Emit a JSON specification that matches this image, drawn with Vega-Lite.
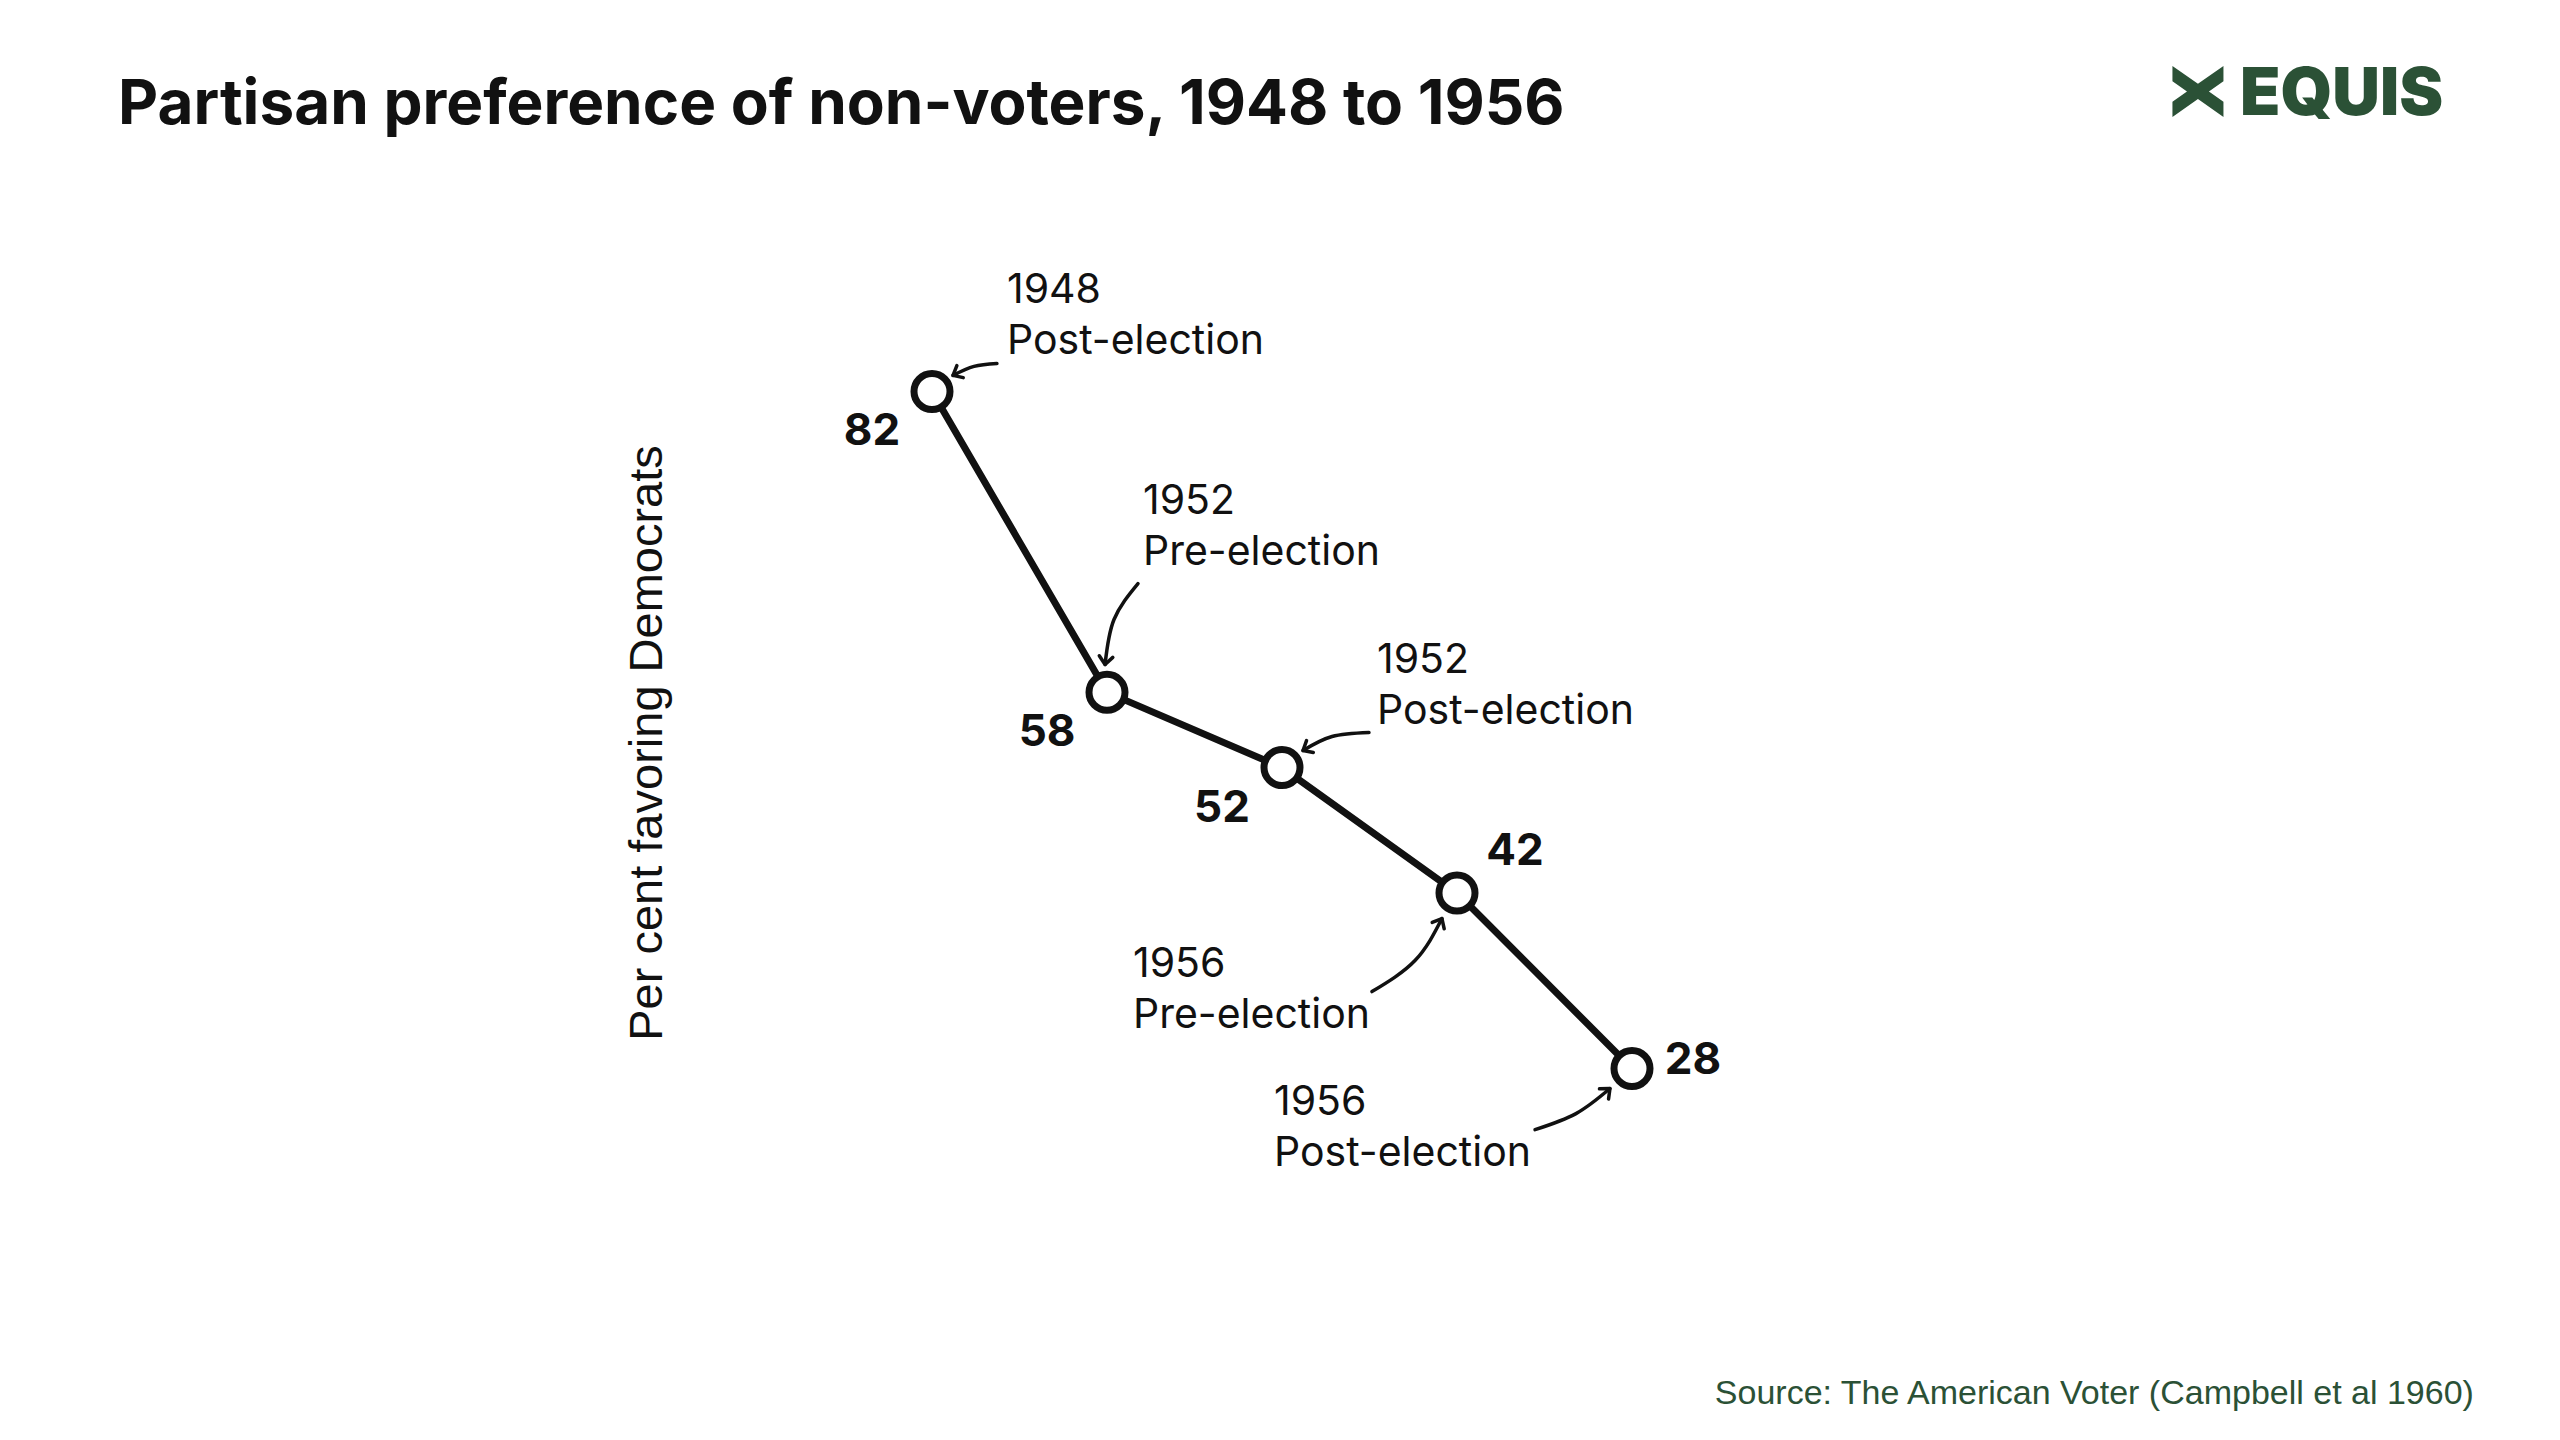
{
  "$schema": "https://vega.github.io/schema/vega-lite/v6.json",
  "autosize": {"type": "none"},
  "padding": {"left": 757, "top": 241, "right": 753, "bottom": 196},
  "width": 1050,
  "height": 1003,
  "background": "white",
  "config": {
    "view": {"stroke": null},
    "axisY": {
      "labels": false,
      "ticks": false,
      "domain": false,
      "grid": false,
      "titleFont": "Liberation Sans",
      "titleFontSize": 47,
      "titleFontWeight": "normal",
      "titleColor": "#111111",
      "titlePadding": 86
    }
  },
  "datasets": {
    "points": [
      {"step": 0, "pct": 82, "note": "1948\nPost-election"},
      {"step": 1, "pct": 58, "note": "1952\nPre-election"},
      {"step": 2, "pct": 52, "note": "1952\nPost-election"},
      {"step": 3, "pct": 42, "note": "1956\nPre-election"},
      {"step": 4, "pct": 28, "note": "1956\nPost-election"}
    ],
    "arrows": [
      {"arrow": "a1", "seq": 1, "step": 0.371, "pct": 84.23},
      {"arrow": "a1", "seq": 2, "step": 0.24, "pct": 84.0},
      {"arrow": "a1", "seq": 3, "step": 0.12, "pct": 83.28, "heading": 152},
      {"arrow": "a2", "seq": 1, "step": 1.177, "pct": 66.68},
      {"arrow": "a2", "seq": 2, "step": 1.04, "pct": 63.81},
      {"arrow": "a2", "seq": 3, "step": 0.989, "pct": 60.22, "heading": 97},
      {"arrow": "a3", "seq": 1, "step": 2.497, "pct": 54.8},
      {"arrow": "a3", "seq": 2, "step": 2.286, "pct": 54.48},
      {"arrow": "a3", "seq": 3, "step": 2.12, "pct": 53.36, "heading": 150},
      {"arrow": "a4", "seq": 1, "step": 2.514, "pct": 34.13},
      {"arrow": "a4", "seq": 2, "step": 2.76, "pct": 36.61},
      {"arrow": "a4", "seq": 3, "step": 2.914, "pct": 39.96, "heading": -62},
      {"arrow": "a5", "seq": 1, "step": 3.446, "pct": 23.12},
      {"arrow": "a5", "seq": 2, "step": 3.68, "pct": 24.4},
      {"arrow": "a5", "seq": 3, "step": 3.874, "pct": 26.4, "heading": -42}
    ],
    "furniture": [
      {"title": "Partisan preference of non-voters, 1948 to 1956", "brand": "EQUIS", "source": "Source: The American Voter (Campbell et al 1960)"}
    ]
  },
  "layer": [
    {
      "encoding": {
        "x": {"field": "step", "type": "quantitative", "scale": {"domain": [-1, 5]}, "axis": null},
        "y": {"field": "pct", "type": "quantitative", "scale": {"domain": [14, 94]}, "axis": {"title": "Per cent favoring Democrats"}}
      },
      "layer": [
        {
          "data": {"name": "arrows"},
          "mark": {"type": "line", "interpolate": "natural", "color": "#111111", "strokeWidth": 3.5, "strokeCap": "round"},
          "encoding": {
            "detail": {"field": "arrow"},
            "order": {"field": "seq"}
          }
        },
        {
          "data": {"name": "arrows"},
          "transform": [{"filter": "datum.seq == 3"}],
          "mark": {"type": "point", "shape": "M-1,-0.85L0,0L-1,0.85", "size": 256, "filled": false, "color": "#111111", "strokeWidth": 3.5, "strokeCap": "round", "strokeJoin": "round", "opacity": 1},
          "encoding": {
            "angle": {"field": "heading", "type": "quantitative", "scale": null}
          }
        },
        {
          "data": {"name": "points"},
          "mark": {"type": "line", "color": "#111111", "strokeWidth": 7}
        },
        {
          "data": {"name": "points"},
          "mark": {"type": "point", "shape": "circle", "size": 1296, "filled": true, "fill": "white", "stroke": "#111111", "strokeWidth": 7, "opacity": 1}
        },
        {
          "data": {"name": "points"},
          "transform": [{"filter": "datum.step <= 2"}],
          "mark": {"type": "text", "font": "Inter", "fontSize": 44, "fontWeight": "bold", "color": "#111111", "align": "center", "baseline": "alphabetic", "dx": -60, "dy": 54},
          "encoding": {"text": {"field": "pct"}}
        },
        {
          "data": {"name": "points"},
          "transform": [{"filter": "datum.step == 3"}],
          "mark": {"type": "text", "font": "Inter", "fontSize": 44, "fontWeight": "bold", "color": "#111111", "align": "center", "baseline": "alphabetic", "dx": 58, "dy": -28},
          "encoding": {"text": {"field": "pct"}}
        },
        {
          "data": {"name": "points"},
          "transform": [{"filter": "datum.step == 4"}],
          "mark": {"type": "text", "font": "Inter", "fontSize": 44, "fontWeight": "bold", "color": "#111111", "align": "center", "baseline": "alphabetic", "dx": 61, "dy": 6},
          "encoding": {"text": {"field": "pct"}}
        },
        {
          "data": {"name": "points"},
          "transform": [{"filter": "datum.step == 0"}],
          "mark": {"type": "text", "font": "Inter", "fontSize": 41, "color": "#111111", "align": "left", "baseline": "alphabetic", "lineBreak": "\n", "lineHeight": 51, "dx": 75, "dy": -88},
          "encoding": {"text": {"field": "note"}}
        },
        {
          "data": {"name": "points"},
          "transform": [{"filter": "datum.step == 1"}],
          "mark": {"type": "text", "font": "Inter", "fontSize": 41, "color": "#111111", "align": "left", "baseline": "alphabetic", "lineBreak": "\n", "lineHeight": 51, "dx": 36, "dy": -178},
          "encoding": {"text": {"field": "note"}}
        },
        {
          "data": {"name": "points"},
          "transform": [{"filter": "datum.step == 2"}],
          "mark": {"type": "text", "font": "Inter", "fontSize": 41, "color": "#111111", "align": "left", "baseline": "alphabetic", "lineBreak": "\n", "lineHeight": 51, "dx": 95, "dy": -95},
          "encoding": {"text": {"field": "note"}}
        },
        {
          "data": {"name": "points"},
          "transform": [{"filter": "datum.step == 3"}],
          "mark": {"type": "text", "font": "Inter", "fontSize": 41, "color": "#111111", "align": "left", "baseline": "alphabetic", "lineBreak": "\n", "lineHeight": 51, "dx": -324, "dy": 84},
          "encoding": {"text": {"field": "note"}}
        },
        {
          "data": {"name": "points"},
          "transform": [{"filter": "datum.step == 4"}],
          "mark": {"type": "text", "font": "Inter", "fontSize": 41, "color": "#111111", "align": "left", "baseline": "alphabetic", "lineBreak": "\n", "lineHeight": 51, "dx": -358, "dy": 47},
          "encoding": {"text": {"field": "note"}}
        }
      ]
    },
    {
      "data": {"name": "furniture"},
      "mark": {"type": "text", "font": "Inter", "fontSize": 62, "fontWeight": "bold", "color": "#111111", "align": "left", "baseline": "alphabetic"},
      "encoding": {
        "x": {"datum": -4.651, "type": "quantitative", "scale": {"domain": [-1, 5]}, "axis": null},
        "y": {"datum": 103.3, "type": "quantitative", "scale": {"domain": [14, 94]}, "axis": {"title": "Per cent favoring Democrats"}},
        "text": {"field": "title"}
      }
    },
    {
      "data": {"name": "furniture"},
      "mark": {"type": "point", "shape": "M-1,-1L0,-0.3L1,-1L1,-0.4L0.43,0L1,0.4L1,1L0,0.3L-1,1L-1,0.4L-0.43,0L-1,-0.4Z", "size": 2601, "filled": true, "color": "#2b5136", "opacity": 1, "strokeWidth": 0},
      "encoding": {
        "x": {"datum": 7.234, "type": "quantitative", "scale": {"domain": [-1, 5]}, "axis": null},
        "y": {"datum": 105.93, "type": "quantitative", "scale": {"domain": [14, 94]}, "axis": {"title": "Per cent favoring Democrats"}}
      }
    },
    {
      "data": {"name": "furniture"},
      "mark": {"type": "text", "font": "Inter", "fontSize": 66, "fontWeight": 900, "color": "#2b5136", "align": "left", "baseline": "alphabetic"},
      "encoding": {
        "x": {"datum": 7.474, "type": "quantitative", "scale": {"domain": [-1, 5]}, "axis": null},
        "y": {"datum": 104.02, "type": "quantitative", "scale": {"domain": [14, 94]}, "axis": {"title": "Per cent favoring Democrats"}},
        "text": {"field": "brand"}
      }
    },
    {
      "data": {"name": "furniture"},
      "mark": {"type": "text", "font": "Liberation Sans", "fontSize": 34, "color": "#2b5136", "align": "right", "baseline": "alphabetic"},
      "encoding": {
        "x": {"datum": 8.811, "type": "quantitative", "scale": {"domain": [-1, 5]}, "axis": null},
        "y": {"datum": 1.27, "type": "quantitative", "scale": {"domain": [14, 94]}, "axis": {"title": "Per cent favoring Democrats"}},
        "text": {"field": "source"}
      }
    }
  ]
}
